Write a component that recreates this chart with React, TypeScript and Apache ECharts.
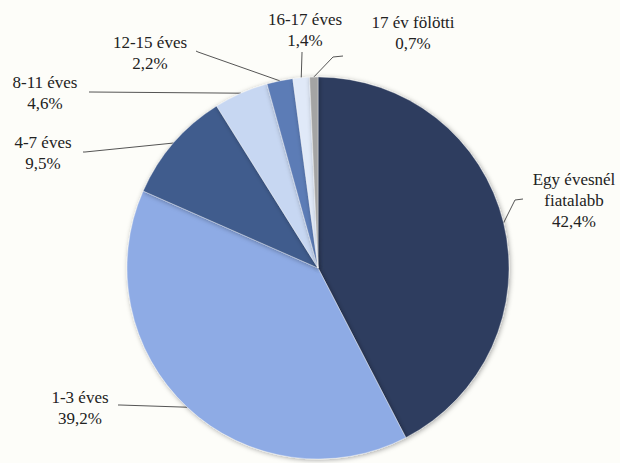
import React, { useEffect, useRef } from "react";
import * as echarts from "echarts";

const categories = [
  "Egy évesnél fiatalabb",
  "1-3 éves",
  "4-7 éves",
  "8-11 éves",
  "12-15 éves",
  "16-17 éves",
  "17 év fölötti",
];
const shares = [42.4, 39.2, 9.5, 4.6, 2.2, 1.4, 0.7];
const sliceColors = ["#2f3e5f", "#8eabe5", "#3f5b8d", "#c7d7f2", "#5c7bb6", "#e0e9f8", "#a4a4a4"];

// label text centres and guide-line bend/end points (layout only)
const labelPos = [
  [574, 200],
  [80, 408],
  [43, 153],
  [45, 93],
  [150, 53],
  [305, 30],
  [413, 33],
];
const guidePts = [
  [[515, 200], [523, 199]],
  [[120, 405], [118, 405]],
  [[85, 152], [83, 152]],
  [[91, 92], [89, 92]],
  [[198, 52], [196, 51]],
  [[302, 53], [302, 52]],
  [[333, 57], [343, 56]],
];

const FONT = "Liberation Serif";

export default function App() {
  const ref = useRef<HTMLDivElement>(null);
  useEffect(() => {
    if (!ref.current) return;
    const chart = echarts.init(ref.current, undefined, { renderer: "svg" });
    const cx = 318;
    const cy = 268;
    const r = 191;
    chart.setOption({
      animation: false,
      backgroundColor: "#fdfdf9",
      textStyle: { fontFamily: FONT },
      series: [
        {
          type: "pie",
          center: [cx, cy],
          radius: r,
          startAngle: 90,
          clockwise: true,
          avoidLabelOverlap: false,
          data: categories.map((name, i) => ({
            name,
            value: shares[i],
            itemStyle: { color: sliceColors[i] },
          })),
          itemStyle: {
            borderColor: "rgba(255,255,255,0.35)",
            borderWidth: 1,
            shadowBlur: 5,
            shadowColor: "rgba(0,0,0,0.35)",
            shadowOffsetX: 1,
            shadowOffsetY: 1,
          },
          label: {
            show: true,
            fontFamily: FONT,
            fontSize: 17,
            lineHeight: 21,
            color: "#222",
            align: "center",
            formatter: (p: any) =>
              p.name.replace("évesnél ", "évesnél\n") +
              "\n" +
              p.value.toFixed(1).replace(".", ",") +
              "%",
          },
          labelLine: {
            show: true,
            length: 10,
            length2: 10,
            lineStyle: { color: "#555", width: 1 },
          },
          labelLayout: (params: any) => {
            const i = params.dataIndex;
            let start = params.labelLinePoints && params.labelLinePoints[0];
            if (!start) {
              let cum = 0;
              for (let k = 0; k < i; k++) cum += shares[k];
              const total = shares.reduce((a, b) => a + b, 0);
              const mid = ((cum + shares[i] / 2) / total) * Math.PI * 2;
              start = [cx + r * Math.sin(mid), cy - r * Math.cos(mid)];
            }
            return {
              x: labelPos[i][0],
              y: labelPos[i][1],
              align: "center",
              verticalAlign: "middle",
              labelLinePoints: [start, guidePts[i][0], guidePts[i][1]],
            };
          },
        },
      ],
    });
    return () => chart.dispose();
  }, []);
  return (
    <div
      ref={ref}
      style={{ position: "absolute", left: 0, top: 0, width: 620, height: 463 }}
    />
  );
}
